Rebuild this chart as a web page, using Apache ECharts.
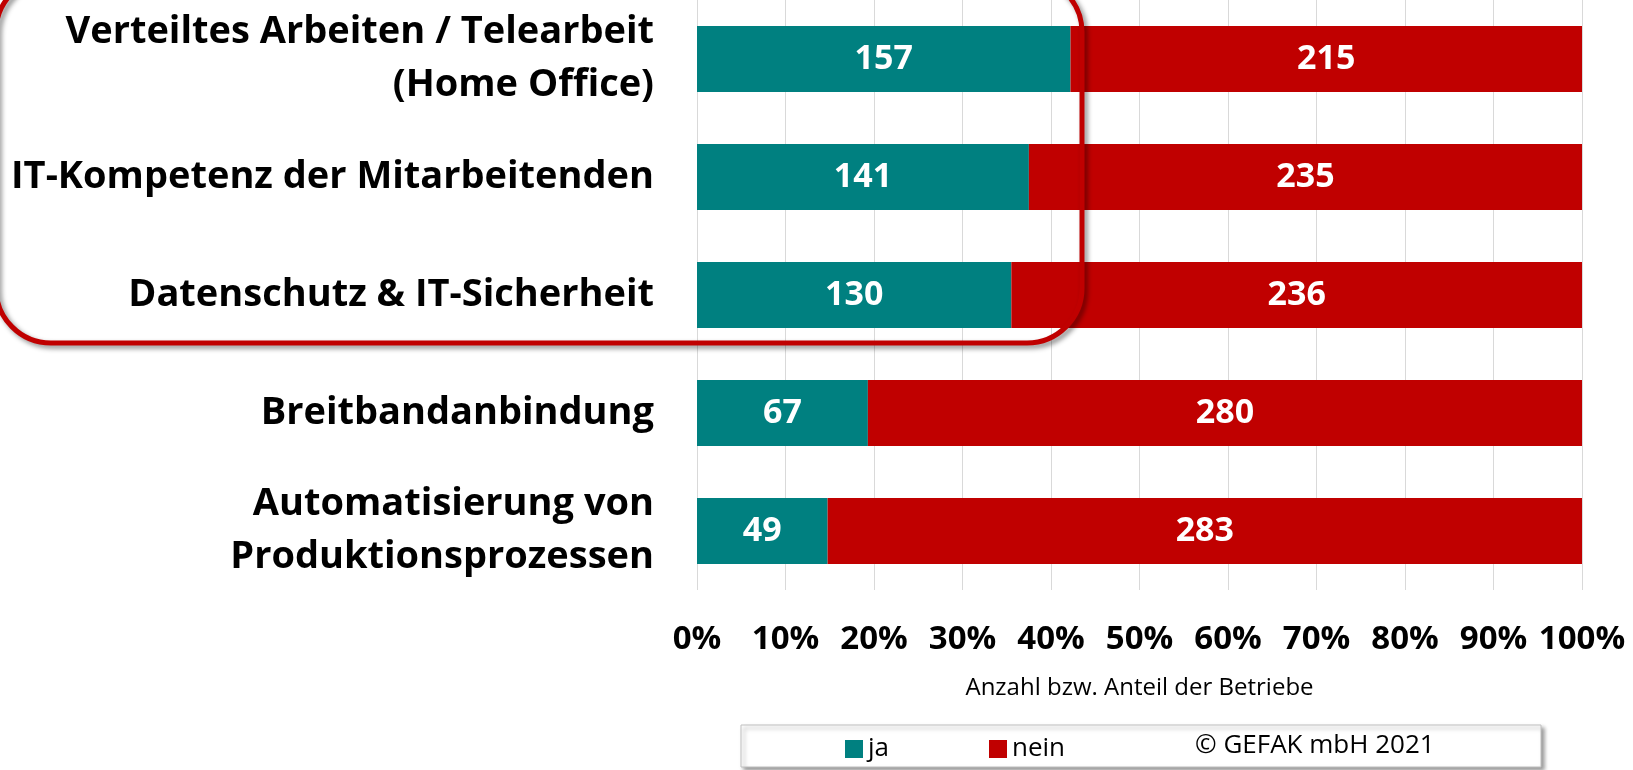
<!DOCTYPE html>
<html>
<head>
<meta charset="utf-8">
<script src="https://cdn.jsdelivr.net/npm/echarts@6/dist/echarts.min.js"></script>
<style>
  html, body { margin: 0; padding: 0; background: #fff; }
  #chart { width: 1633px; height: 770px; }
</style>
</head>
<body>
<div id="chart"></div>
<script>
// Kategorien von oben nach unten
const categories = [
  'Verteiltes Arbeiten / Telearbeit\n(Home Office)',
  'IT-Kompetenz der Mitarbeitenden',
  'Datenschutz & IT-Sicherheit',
  'Breitbandanbindung',
  'Automatisierung von\nProduktionsprozessen'
]
const jaValues = [157, 141, 130, 67, 49]
const neinValues = [215, 235, 236, 280, 283]
const tickLabels = ['0%', '10%', '20%', '30%', '40%', '50%', '60%', '70%', '80%', '90%', '100%']

const font = '"Open Sans", sans-serif'

// Anteil je Kategorie (100%-gestapelt), Label zeigt die Anzahl
function share(values) {
  return values.map((v, i) => ({
    value: v / (jaValues[i] + neinValues[i]) * 100,
    count: v
  }))
}

const chart = echarts.init(document.getElementById('chart'))

const barLabel = {
  show: true,
  position: 'inside',
  color: '#fff',
  fontFamily: font,
  fontSize: 34,
  fontWeight: 'bold',
  formatter: (p) => p.data.count
}

chart.setOption({
  animation: false,
  textStyle: { fontFamily: font },
  grid: {
    left: 697,
    right: 51,
    top: -6,
    bottom: 180
  },
  legend: {
    data: ['ja', 'nein'],
    left: 840,
    top: 731,
    itemWidth: 18,
    itemHeight: 18,
    itemGap: 100,
    icon: 'rect',
    textStyle: { fontFamily: font, fontSize: 26, color: '#000' }
  },
  xAxis: {
    type: 'value',
    min: 0,
    max: 100,
    interval: 10,
    axisLine: { show: false },
    axisTick: { show: false },
    splitLine: { lineStyle: { color: '#d9d9d9', width: 1 } },
    axisLabel: {
      margin: 33,
      fontFamily: font,
      fontSize: 33,
      fontWeight: 'bold',
      color: '#000',
      formatter: (v) => tickLabels[Math.round(v / 10)]
    },
    name: 'Anzahl bzw. Anteil der Betriebe',
    nameLocation: 'middle',
    nameGap: 86,
    nameTextStyle: { fontFamily: font, fontSize: 24, color: '#000' }
  },
  yAxis: {
    type: 'category',
    inverse: true,
    data: categories,
    axisLine: { show: false },
    axisTick: { show: false },
    axisLabel: {
      margin: 43,
      fontFamily: font,
      fontSize: 38,
      fontWeight: 'bold',
      color: '#000',
      lineHeight: 53
    }
  },
  series: [
    {
      name: 'ja',
      type: 'bar',
      stack: 'total',
      barCategoryGap: '44%',
      itemStyle: { color: '#008080' },
      label: barLabel,
      data: share(jaValues)
    },
    {
      name: 'nein',
      type: 'bar',
      stack: 'total',
      itemStyle: { color: '#c00000' },
      label: barLabel,
      data: share(neinValues)
    }
  ],
  graphic: [
    // Rahmen um die Top 3
    {
      type: 'rect',
      z: 100,
      shape: { x: -4, y: -23, width: 1086, height: 366, r: 55 },
      style: {
        fill: 'none',
        stroke: '#c00000',
        lineWidth: 5,
        shadowColor: 'rgba(0,0,0,0.45)',
        shadowBlur: 5,
        shadowOffsetX: 3,
        shadowOffsetY: 3
      }
    },
    // Legendenkasten
    {
      type: 'rect',
      z: -1,
      shape: { x: 741, y: 725, width: 800, height: 42 },
      style: {
        fill: '#fff',
        stroke: '#bfbfbf',
        lineWidth: 1,
        shadowColor: 'rgba(0,0,0,0.4)',
        shadowBlur: 4,
        shadowOffsetX: 3,
        shadowOffsetY: 3
      }
    },
    {
      type: 'text',
      z: 10,
      x: 1195,
      y: 746,
      style: {
        text: '© GEFAK mbH 2021',
        fontFamily: font,
        fontSize: 26,
        fill: '#000',
        textVerticalAlign: 'middle'
      }
    }
  ]
})
</script>
</body>
</html>
